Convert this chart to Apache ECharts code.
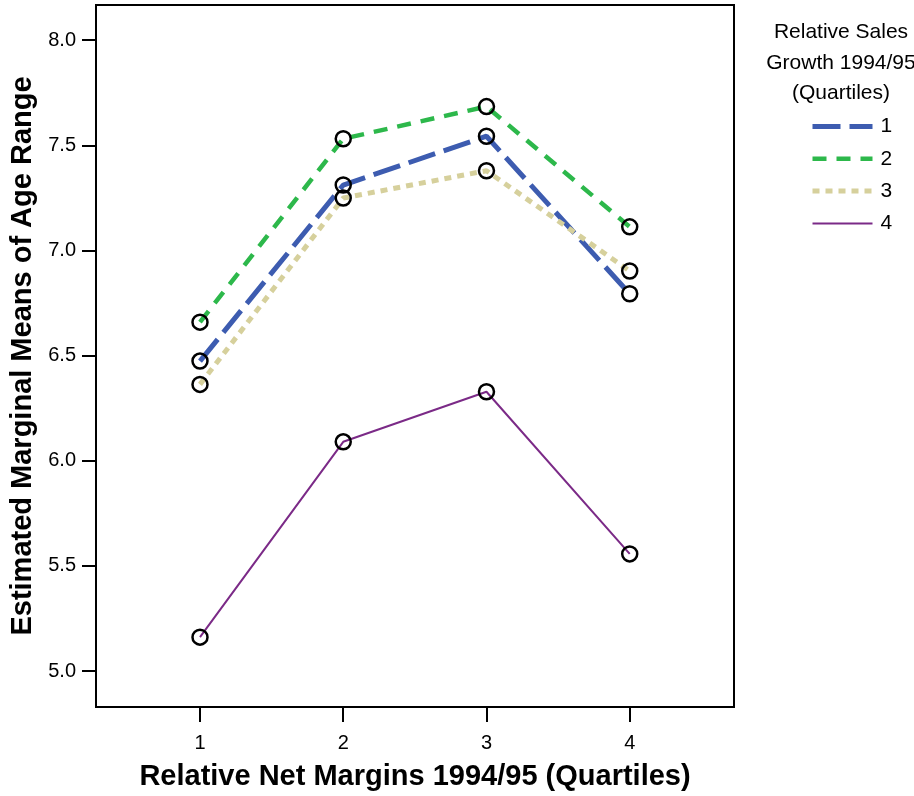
<!DOCTYPE html>
<html>
<head>
<meta charset="utf-8">
<script src="https://cdn.jsdelivr.net/npm/echarts@6/dist/echarts.min.js"></script>
<style>html,body{margin:0;padding:0;background:#fff}#c{width:914px;height:796px}</style>
</head>
<body>
<div id="c"></div>
<script>
const categories = [1, 2, 3, 4];
const seriesNames = ['1', '2', '3', '4'];
const s1 = [6.474, 7.311, 7.543, 6.794];
const s2 = [6.659, 7.531, 7.684, 7.112];
const s3 = [6.363, 7.249, 7.379, 6.902];
const s4 = [5.161, 6.090, 6.328, 5.557];
const yTicks = [5.0, 5.5, 6.0, 6.5, 7.0, 7.5, 8.0];
const xTicks = [1, 2, 3, 4];

const values = [s1, s2, s3, s4];
const colors = ['#3d5cb0', '#2db84b', '#d6d09c', '#7b2a87'];
const widths = [5, 4.5, 5, 2];
const dashes = [[28, 9], [14, 10], [7, 6], 'solid'];
const font = 'Liberation Sans, Arial, sans-serif';

const chart = echarts.init(document.getElementById('c'), null, {renderer: 'canvas'});
chart.setOption({
  animation: false,
  backgroundColor: '#fff',
  title: {
    text: 'Relative Sales\nGrowth 1994/95\n(Quartiles)',
    left: 836, top: 12, textAlign: 'center',
    textStyle: {fontFamily: font, fontSize: 21, fontWeight: 'normal', color: '#000', lineHeight: 30.5}
  },
  legend: {
    orient: 'vertical', left: 805, top: 111,
    itemWidth: 60, itemHeight: 14, itemGap: 11.3,
    textStyle: {fontFamily: font, fontSize: 21, color: '#000', padding: [0, 0, 0, 3]},
    itemStyle: {opacity: 0},
    data: seriesNames.map((n, i) => ({
      name: n,
      lineStyle: {width: widths[i], color: colors[i], type: dashes[i], cap: 'butt'}
    }))
  },
  grid: {left: 96, right: 180, top: 5, bottom: 87, show: true, borderColor: '#000', borderWidth: 2, containLabel: false},
  xAxis: {
    type: 'value', min: 0.274, max: 4.728,
    name: 'Relative Net Margins 1994/95 (Quartiles)', nameLocation: 'middle', nameGap: 55,
    nameTextStyle: {fontFamily: font, fontSize: 29, fontWeight: 'bold', color: '#000'},
    axisLine: {show: true, lineStyle: {color: '#000', width: 2}},
    axisTick: {show: true, length: 15, lineStyle: {color: '#000', width: 2}, customValues: xTicks},
    axisLabel: {fontFamily: font, fontSize: 20, color: '#000', margin: 26, customValues: xTicks, formatter: v => String(v)},
    splitLine: {show: false}
  },
  yAxis: {
    type: 'value', min: 4.829, max: 8.167,
    name: 'Estimated Marginal Means of Age Range', nameLocation: 'middle', nameGap: 52,
    nameTextStyle: {fontFamily: font, fontSize: 29, fontWeight: 'bold', color: '#000'},
    axisLine: {show: true, lineStyle: {color: '#000', width: 2}},
    axisTick: {show: true, length: 14, lineStyle: {color: '#000', width: 2}, customValues: yTicks},
    axisLabel: {fontFamily: font, fontSize: 20, color: '#000', margin: 20, customValues: yTicks, formatter: v => v.toFixed(1)},
    splitLine: {show: false}
  },
  series: values.map((arr, i) => ({
    name: seriesNames[i],
    type: 'line',
    data: arr.map((v, j) => [categories[j], v]),
    symbol: 'circle', symbolSize: 15,
    itemStyle: {color: 'rgba(0,0,0,0)', borderColor: '#000', borderWidth: 2.5},
    lineStyle: {color: colors[i], width: widths[i], type: dashes[i], cap: 'butt'},
    color: colors[i],
    z: 2 + i
  }))
});
</script>
</body>
</html>
